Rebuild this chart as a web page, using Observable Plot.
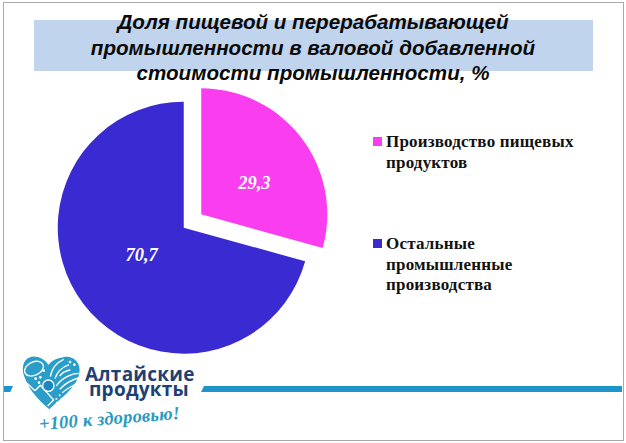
<!DOCTYPE html>
<html lang="ru">
<head>
<meta charset="utf-8">
<script src="https://cdn.jsdelivr.net/npm/d3@7"></script>
<script src="https://cdn.jsdelivr.net/npm/@observablehq/plot@0.6"></script>
<style>
html,body{margin:0;padding:0;background:#fff;}
#page{position:relative;width:626px;height:443px;overflow:hidden;background:#fff;}
#page > svg{position:absolute;left:0;top:0;display:block;}
#frame{position:absolute;left:3px;top:2px;width:619px;height:437px;border:1px solid #a9a9a9;box-sizing:content-box;pointer-events:none;}
#band{position:absolute;left:34px;top:20px;width:559px;height:51px;background:#c1d4ee;}
#title{position:absolute;left:0;top:9px;width:626px;text-align:center;font:italic bold 20.6px/25.5px "Liberation Sans",sans-serif;color:#0a0a0a;}
.leg{position:absolute;left:386px;font:bold 17px/20.5px "Liberation Serif",serif;color:#111;letter-spacing:.2px;}
.sw{position:absolute;left:373px;width:9px;height:9px;}
.st{position:absolute;height:6px;top:386px;background:#1e95c8;}
.logo{position:absolute;white-space:nowrap;}
#heart{position:absolute !important;left:15px !important;top:350px !important;z-index:5;}
</style>
</head>
<body>
<div id="page">
  <div id="band"></div>
  <div id="title"></div>
  <div id="legend"></div>
  <div class="st" style="left:4px;width:9px;clip-path:polygon(0 0,100% 0,70% 100%,0 100%)"></div>
  <div class="st" style="left:201px;width:421px;clip-path:polygon(3px 0,100% 0,100% 100%,0 100%)"></div>
  <svg id="heart" width="70" height="60" viewBox="0 0 210 180">
    <path d="M100 45C90 25 60 15 45 22C22 30 18 60 30 85C45 125 75 155 103 178C130 150 185 115 193 70C200 35 170 15 145 22C125 25 110 32 100 45Z" fill="#2a9ec9"/>
    <g fill="none" stroke="#fff" stroke-width="4">
      <ellipse cx="57" cy="56" rx="30" ry="20" transform="rotate(-25 57 56)"/>
      <path d="M60 122L76 106L116 150L98 168"/>
      <path d="M36 100L60 122"/>
      <path d="M106 80C110 56 124 38 146 28"/>
      <path d="M120 86C126 66 140 52 162 44"/>
      <path d="M134 78C142 68 150 62 166 60"/>
      <path d="M124 108C140 84 170 70 192 70"/>
      <path d="M134 118C150 100 170 90 190 84"/>
      <path d="M142 128C156 116 172 108 186 100"/>
    </g>
    <g fill="#fff">
      <circle cx="62" cy="86" r="4"/><circle cx="76" cy="82" r="4"/><circle cx="72" cy="98" r="4"/><circle cx="86" cy="62" r="4"/>
      <circle cx="165" cy="36" r="4"/><circle cx="178" cy="44" r="4"/>
      <circle cx="124" cy="146" r="3"/><circle cx="134" cy="136" r="3"/><circle cx="140" cy="146" r="3"/><circle cx="126" cy="158" r="3"/>
    </g>
    <circle cx="100" cy="107" r="17" fill="#1b86c0" stroke="#fff" stroke-width="4"/>
  </svg>
  <div class="logo" style="left:85px;top:366.5px;width:108px;text-align:center;font:bold 19px/15px 'Open Sans',sans-serif;color:#1f3f75;letter-spacing:.25px">Алтайские<br>продукты</div>
  <div class="logo" style="left:39px;top:413px;font:italic bold 18.5px/22px 'Liberation Serif',serif;color:#2c9ac0;letter-spacing:.2px;transform:rotate(-4.5deg);transform-origin:left center">+100 к здоровью!</div>
  <div id="frame"></div>
</div>
<script>
const titleLines = ["Доля пищевой и перерабатывающей", "промышленности в валовой добавленной", "стоимости промышленности, %"];
const categories = ["Производство пищевых продуктов", "Остальные промышленные производства"];
const values = [29.3, 70.7];
const valueLabels = ["29,3", "70,7"];
const colors = ["#fb3df0", "#3a2ad2"];
const legendLines = [["Производство пищевых", "продуктов"], ["Остальные", "промышленные", "производства"]];
const legendTops = [132, 234];

const table = categories.map((category, i) => ({category, value: values[i], label: valueLabels[i]}));

// Geometry of the exploded pie (layout only, no data)
const center = [192.5, 221], radius = 126, explode = 11;
const labelNudge = [[6, 4], [5, -9]];

// Bars stacked on x, with x mapped to angle: each bar is then drawn as a slice.
function pieRender(index, scales, channels) {
  const g = d3.create("svg:g");
  const arc = d3.arc().innerRadius(0).outerRadius(radius);
  for (const i of index) {
    const a0 = channels.x1[i], a1 = channels.x2[i], mid = (a0 + a1) / 2;
    const x = center[0] + explode * Math.sin(mid), y = center[1] - explode * Math.cos(mid);
    g.append("path")
      .attr("d", arc({startAngle: a0, endAngle: a1}))
      .attr("transform", `translate(${x},${y})`)
      .attr("fill", channels.fill[i]);
    g.append("text")
      .attr("x", x + radius * 0.47 * Math.sin(mid) + labelNudge[i][0])
      .attr("y", y - radius * 0.47 * Math.cos(mid) + labelNudge[i][1])
      .attr("dy", "0.35em")
      .attr("text-anchor", "middle")
      .attr("fill", "#fff")
      .style("font", "italic bold 18.5px 'Liberation Serif',serif")
      .text(table[i].label);
  }
  return g.node();
}

const chart = Plot.plot({
  width: 626, height: 443,
  margin: 0,
  style: {background: "transparent"},
  x: {domain: [0, 100], range: [0, 2 * Math.PI], axis: null},
  color: {domain: categories, range: colors},
  marks: [
    Plot.barX(table, {x: "value", fill: "category", render: pieRender})
  ]
});
const page = document.getElementById("page");
page.insertBefore(chart, document.getElementById("frame"));

document.getElementById("title").innerHTML = titleLines.join("<br>");
const legend = document.getElementById("legend");
legendLines.forEach((lines, i) => {
  const sw = document.createElement("div");
  sw.className = "sw";
  sw.style.top = (legendTops[i] + 5) + "px";
  sw.style.background = colors[i];
  legend.appendChild(sw);
  const t = document.createElement("div");
  t.className = "leg";
  t.style.top = legendTops[i] + "px";
  t.innerHTML = lines.join("<br>");
  legend.appendChild(t);
});
</script>
</body>
</html>
